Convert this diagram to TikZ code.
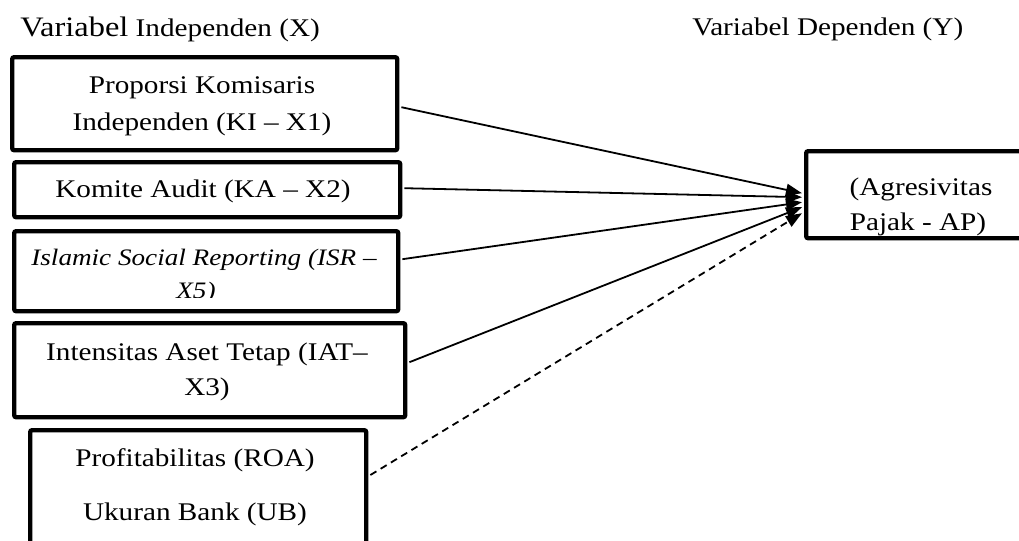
\documentclass[tikz,border=0pt]{standalone}
\usepackage{fontspec}
\setmainfont[FakeStretch=1.15]{Liberation Serif}
\usetikzlibrary{arrows.meta,calc}

\tikzset{
  varbox/.style={draw, line width=2.2pt, rounded corners=1pt, inner sep=0pt,
                 anchor=north west},
  boxtext/.style={font=\fontsize{12.7}{14}\selectfont, inner sep=0pt, anchor=base},
  italtext/.style={boxtext, font=\fontsize{11.8}{14}\selectfont\itshape},
  headtext/.style={font=\fontsize{12.7}{14}\selectfont, inner sep=0pt, anchor=base west},
  link/.style={line width=0.9pt, -{Triangle[length=8pt,width=6pt]}},
  dashedlink/.style={link, dash pattern=on 3.5pt off 2.5pt}
}

\begin{document}
\begin{tikzpicture}[x=0.5pt, y=-0.5pt]
  % page frame
  \useasboundingbox (0,0) rectangle (1019,541);
  \clip (0,0) rectangle (1019,541);
  \fill[white] (0,0) rectangle (1019,541);

  % column headings
  \node[headtext] (hx) at (20,36)
    {{\fontsize{14.1}{15}\selectfont Variabel} Independen (X)};
  \node[headtext] (hy) at (692,35) {Variabel Dependen (Y)};

  % independent variables
  \node[varbox, minimum width=192.5pt, minimum height=46.5pt] (b1) at (10,55) {};
  \node[boxtext] (t1a) at (202,93) {Proporsi Komisaris};
  \node[boxtext] (t1b) at (202,130) {Independen (KI – X1)};

  \node[varbox, minimum width=193pt, minimum height=27.5pt] (b2) at (12,160) {};
  \node[boxtext] (t2a) at (203,197) {Komite Audit (KA – X2)};

  \node[varbox, minimum width=192pt, minimum height=40pt] (b3) at (12,229) {};
  \begin{scope}
    \clip (12,229) rectangle (396,297);
    \node[italtext] (t3a) at (204,265) {Islamic Social Reporting (ISR –};
    \node[italtext] (t3b) at (196,298) {X5)};
  \end{scope}

  \node[varbox, minimum width=195.5pt, minimum height=47pt] (b4) at (12,321) {};
  \node[boxtext] (t4a) at (207,360) {Intensitas Aset Tetap (IAT–};
  \node[boxtext] (t4b) at (207,395) {X3)};

  \node[varbox, minimum width=168pt, minimum height=66pt] (b5) at (28,428) {};
  \node[boxtext] (t5a) at (195,466) {Profitabilitas (ROA)};
  \node[boxtext] (t5b) at (195,520) {Ukuran Bank (UB)};

  % dependent variable
  \node[varbox, minimum width=118pt, minimum height=43.5pt] (tg) at (804,149) {};
  \node[boxtext] (tya) at (921,195) {(Agresivitas};
  \node[boxtext] (tyb) at (918,230) {Pajak - AP)};

  % paths
  \draw[link] ($(b1.east)+(2,3.5)$) -- ($(tg.west)+(-2,-1.5)$);
  \draw[link] ($(b2.east)+(2,-1.5)$) -- ($(tg.west)+(-2,2.5)$);
  \draw[link] ($(b3.east)+(2,-12)$) -- ($(tg.west)+(-2,7.5)$);
  \draw[link] ($(b4.east)+(2,-8)$) -- ($(tg.west)+(-2,12.5)$);
  \draw[dashedlink] ($(b5.north east)+(2,47)$) -- ($(tg.west)+(-2,18.5)$);
\end{tikzpicture}
\end{document}
